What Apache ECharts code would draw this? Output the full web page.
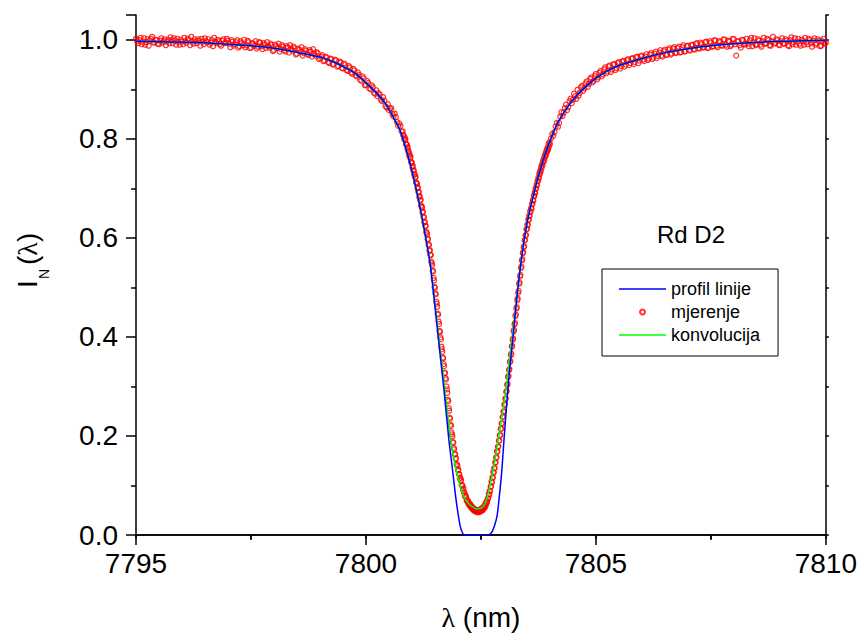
<!DOCTYPE html>
<html><head><meta charset="utf-8">
<script src="https://cdn.jsdelivr.net/npm/echarts@6/dist/echarts.min.js"></script>
<style>html,body{margin:0;padding:0;background:#fff}#c{width:860px;height:636px}</style>
</head><body><div id="c"></div>
<script>
// ---- tick labels ----
const xTickLabels = ['7795', '7800', '7805', '7810'];
const yTickLabels = ['0.0', '0.2', '0.4', '0.6', '0.8', '1.0'];

// ---- series names ----
const seriesNames = ['profil linije', 'mjerenje', 'konvolucija'];
const annotation = 'Rd D2';

// ---- profil linije (blue) ----
const profileX = [7795,7795.5,7796,7796.5,7797,7797.5,7798,7798.5,7799,7799.25,7799.5,7799.75,7800,7800.2,7800.4,7800.6,7800.75,7800.9,7801,7801.1,7801.2,7801.3,7801.4,7801.5,7801.6,7801.7,7801.8,7801.9,7801.95,7802,7802.05,7802.1,7802.15,7802.65,7802.7,7802.75,7802.8,7802.85,7802.9,7802.95,7803,7803.1,7803.2,7803.3,7803.4,7803.5,7803.6,7803.75,7803.9,7804.05,7804.2,7804.4,7804.6,7804.8,7805,7805.25,7805.5,7806,7806.5,7807,7807.5,7808,7808.5,7809,7809.5,7810];
const profileY = [0.997,0.996,0.995,0.994,0.991,0.988,0.983,0.975,0.965,0.957,0.946,0.933,0.913,0.895,0.874,0.843,0.815,0.770,0.735,0.695,0.650,0.600,0.545,0.462,0.375,0.290,0.195,0.118,0.078,0.045,0.018,0.004,0,0,0.002,0.008,0.020,0.038,0.078,0.125,0.190,0.310,0.402,0.495,0.570,0.628,0.670,0.725,0.770,0.807,0.837,0.866,0.889,0.907,0.922,0.937,0.948,0.962,0.974,0.982,0.988,0.992,0.995,0.997,0.998,0.999];

// ---- konvolucija (green) ----
const convX = [7795,7795.5,7796,7796.5,7797,7797.5,7798,7798.5,7799,7799.25,7799.5,7799.75,7800,7800.2,7800.4,7800.6,7800.75,7800.9,7801,7801.1,7801.2,7801.3,7801.4,7801.5,7801.6,7801.7,7801.8,7801.9,7802,7802.1,7802.2,7802.3,7802.4,7802.5,7802.6,7802.7,7802.8,7802.9,7803,7803.1,7803.2,7803.3,7803.4,7803.5,7803.6,7803.75,7803.9,7804.05,7804.2,7804.4,7804.6,7804.8,7805,7805.25,7805.5,7806,7806.5,7807,7807.5,7808,7808.5,7809,7809.5,7810];
const convY = [0.997,0.996,0.995,0.994,0.991,0.988,0.983,0.975,0.965,0.957,0.946,0.933,0.913,0.895,0.874,0.843,0.815,0.770,0.735,0.695,0.650,0.600,0.545,0.467,0.385,0.305,0.225,0.160,0.117,0.084,0.067,0.058,0.053,0.054,0.066,0.100,0.148,0.205,0.265,0.338,0.415,0.495,0.572,0.629,0.670,0.726,0.771,0.807,0.837,0.866,0.889,0.907,0.922,0.937,0.948,0.962,0.974,0.982,0.988,0.992,0.995,0.997,0.998,0.999];

// ---- mjerenje (red circles): three scan segments, each start + step ----
const measLeftStart = 7795, measLeftStep = 0.025;
const measLeftY = [
1.002,0.997,0.993,0.999,1.004,0.991,0.996,1.003,0.990,0.995,1.001,0.988,0.998,1.002,1.006,0.995,0.994,1.000,0.999,0.992,
0.991,0.998,1.003,0.994,0.997,1.001,0.989,0.996,1.000,0.993,1.005,0.999,0.993,1.003,0.998,0.990,1.002,0.996,0.990,1.000,
0.996,0.991,1.004,0.997,0.994,1.002,0.999,0.989,1.006,0.996,0.992,1.001,0.997,0.993,1.001,0.998,0.988,1.002,0.996,0.991,
1.003,0.997,0.995,1.001,0.990,0.994,0.999,0.987,1.004,0.996,0.993,1.000,0.997,0.991,0.988,0.998,1.001,0.993,0.994,1.002,
0.998,
0.992,0.985,0.999,0.996,0.988,0.991,0.995,0.999,0.984,0.987,0.997,0.993,0.989,1.000,0.985,0.989,0.998,0.995,0.983,0.984,
0.993,0.992,0.988,0.997,0.982,0.986,0.995,0.994,0.987,0.981,0.993,0.990,0.983,0.995,0.987,0.984,0.992,0.989,0.977,0.979,
0.990,0.987,0.983,0.992,0.976,0.981,0.989,0.986,0.979,0.976,0.987,0.984,0.974,0.989,0.981,0.978,0.986,0.983,0.970,0.972,
0.982,0.980,0.975,0.985,0.968,0.973,0.981,0.978,0.971,0.969,0.979,0.976,0.966,0.981,0.972,0.968,0.975,0.973,0.961,0.963,
0.966,0.969,0.957,0.958,0.966,0.964,0.955,0.953,0.962,0.961,0.950,0.951,0.960,0.958,0.946,0.947,0.956,0.954,0.943,0.942,
0.952,0.949,0.939,0.937,0.947,0.944,0.934,0.931,0.941,0.938,0.928,0.926,0.934,0.929,0.919,0.917,0.926,0.922,0.908,0.909,
0.917,0.913,0.902,0.900,0.908,0.904,0.893,0.891,0.898,0.886,0.892,0.889,0.879,0.876,0.884,0.877,0.866,0.863,0.870,0.858,
0.861,0.862,0.850,0.845,0.851,0.844,0.834,0.826,0.831,0.826,0.815
];
const measCoreStart = 7800.8, measCoreStep = 0.01;
const measCoreY = [
0.815,0.807,0.807,0.800,0.803,0.797,0.799,0.789,0.789,0.788,0.780,0.783,0.775,0.774,0.766,0.769,0.762,0.764,0.753,0.753,
0.751,0.742,0.745,0.736,0.736,0.727,0.729,0.722,0.723,0.712,0.711,0.709,0.700,0.702,0.693,0.692,0.682,0.684,0.676,0.677,
0.665,0.663,0.661,0.651,0.653,0.643,0.641,0.631,0.632,0.624,0.624,0.612,0.610,0.607,0.597,0.598,0.587,0.585,0.574,0.575,
0.566,0.565,0.552,0.549,0.545,0.534,0.532,0.519,0.514,0.501,0.499,0.488,0.486,0.471,0.467,0.461,0.447,0.445,0.431,0.426,
0.412,0.410,0.399,0.395,0.380,0.375,0.370,0.358,0.357,0.345,0.341,0.328,0.327,0.317,0.314,0.300,0.294,0.287,0.273,0.270,
0.256,0.251,0.237,0.235,0.223,0.220,0.207,0.203,0.199,0.187,0.187,0.176,0.173,0.163,0.163,0.154,0.155,0.143,0.142,0.139,
0.130,0.132,0.123,0.123,0.114,0.116,0.110,0.111,0.101,0.100,0.099,0.091,0.094,0.086,0.086,0.079,0.081,0.076,0.077,0.069,
0.069,0.070,0.064,0.067,0.061,0.063,0.059,0.062,0.056,0.058,0.054,0.057,0.052,0.054,0.050,0.053,0.049,0.051,0.048,0.051,
0.047,0.050,0.046,0.050,0.047,0.049,0.046,0.051,0.048,0.051,0.048,0.053,0.050,0.054,0.050,0.055,0.053,0.058,0.055,0.061,
0.058,0.065,0.063,0.069,0.067,0.074,0.074,0.083,0.081,0.089,0.088,0.098,0.098,0.108,0.106,0.116,0.116,0.127,0.126,0.135,
0.135,0.146,0.147,0.156,0.157,0.168,0.169,0.178,0.179,0.190,0.191,0.201,0.202,0.214,0.215,0.225,0.226,0.238,0.239,0.249,
0.250,0.263,0.264,0.275,0.276,0.289,0.291,0.303,0.305,0.319,0.321,0.333,0.335,0.349,0.351,0.363,0.366,0.380,0.382,0.394,
0.397,0.411,0.414,0.425,0.428,0.442,0.445,0.457,0.460,0.474,0.477,0.489,0.493,0.507,0.510,0.522,0.525,0.539,0.542,0.554,
0.557,0.569,0.571,0.581,0.583,0.595,0.596,0.605,0.606,0.617,0.618,0.627,0.626,0.637,0.636,0.645,0.644,0.654,0.652,0.660,
0.659,0.669,0.668,0.676,0.675,0.685,0.684,0.692,0.690,0.700,0.699,0.707,0.706,0.715,0.714,0.722,0.720,0.730,0.728,0.736,
0.734,0.744,0.741,0.749,0.746,0.756,0.753,0.761,0.757,0.767,0.764,0.772,0.768,0.778,0.774,0.782,0.778,0.789,0.784,0.793,
0.789
];
const measRightStart = 7804.025, measRightStep = 0.025;
const measRightY = [
0.801,0.810,0.806,0.814,0.825,0.832,0.824,0.832,0.845,0.854,0.846,0.853,0.862,0.869,0.858,0.864,0.876,0.881,0.872,0.879,
0.891,0.886,0.881,0.899,0.887,0.893,0.904,0.907,0.897,0.902,0.912,0.916,0.905,0.911,0.921,0.924,0.914,0.917,0.927,0.931,
0.920,0.924,0.933,0.937,0.926,0.930,0.940,0.944,0.932,0.936,0.946,0.948,0.935,0.940,0.950,0.951,0.939,0.943,0.953,0.955,
0.942,0.947,0.956,0.958,0.946,0.950,0.959,0.961,0.949,0.953,0.962,0.963,0.951,0.955,0.965,0.966,0.953,0.958,0.967,0.968,
0.960,0.957,0.966,0.971,0.959,0.962,0.970,0.973,0.961,0.964,0.972,0.976,0.963,0.967,0.974,0.979,0.968,0.966,0.977,0.980,
0.969,0.970,0.980,0.983,0.970,0.972,0.982,0.985,0.973,0.974,0.983,0.986,0.974,0.975,0.985,0.989,0.976,0.977,0.987,0.988,
0.979,0.978,0.989,0.990,0.981,0.980,0.992,0.993,0.983,0.982,0.994,0.991,0.984,0.985,0.995,0.996,0.983,0.984,0.997,0.994,
0.986,0.987,0.999,0.998,0.988,0.985,0.997,0.995,0.989,0.988,1.001,1.000,0.990,0.986,0.998,0.996,0.987,0.990,1.002,1.001,
0.991,0.968,0.996,0.997,0.989,0.984,1.000,0.999,0.990,0.992,1.002,0.992,0.987,0.999,1.004,0.987,0.995,1.003,0.989,0.991,
1.001,0.998,0.990,0.986,0.997,1.004,0.992,0.993,1.002,0.999,0.989,0.988,0.996,1.006,0.992,0.994,1.001,0.999,0.990,0.989,
0.997,1.003,0.993,0.992,1.001,0.998,0.989,0.987,0.999,1.005,0.991,0.995,1.003,0.990,0.996,1.002,0.992,0.988,1.000,0.997,
0.990,1.004,0.995,0.991,1.002,0.999,0.993,0.986,0.998,1.003,0.990,0.993,1.001,0.998,0.987,0.988,0.997,1.002,0.992,0.994
];

const profileData = profileX.map((x, i) => [x, profileY[i]]);
const convData = convX.map((x, i) => [x, convY[i]]);
const seg = (start, step, ys) => ys.map((y, i) => [Math.round((start + i * step) * 1000) / 1000, y]);
const measData = [].concat(
  seg(measLeftStart, measLeftStep, measLeftY),
  seg(measCoreStart, measCoreStep, measCoreY),
  seg(measRightStart, measRightStep, measRightY)
);

const FONT = 'Liberation Sans, Arial, sans-serif';
const chart = echarts.init(document.getElementById('c'), null, {renderer: 'svg'});
const axisLine = {show: true, lineStyle: {color: '#000', width: 1.5}};
const lineIcon = 'path://M0,0H47V1.5H0Z';

chart.setOption({
  animation: false,
  backgroundColor: '#fff',
  grid: {left: 136, right: 34, top: 15, bottom: 99, containLabel: false},
  legend: {
    data: [
      {name: seriesNames[0], icon: lineIcon},
      {name: seriesNames[1], icon: 'circle'},
      {name: seriesNames[2], icon: lineIcon}
    ],
    orient: 'vertical',
    left: 602, top: 269,
    padding: [11, 18, 12, 17],
    itemWidth: 47, itemHeight: 5, itemGap: 5,
    borderColor: '#000', borderWidth: 1,
    textStyle: {fontSize: 18, fontFamily: FONT, color: '#000'}
  },
  xAxis: [
    {
      type: 'value', min: 7795, max: 7810, interval: 5, position: 'bottom',
      axisLine: axisLine,
      axisTick: {show: true, inside: false, length: 10, lineStyle: {color: '#000', width: 1.5}},
      minorTick: {show: true, splitNumber: 2, length: 5, lineStyle: {color: '#000', width: 1.5}},
      splitLine: {show: false}, minorSplitLine: {show: false},
      axisLabel: {fontSize: 28, fontFamily: FONT, color: '#000', margin: 14,
        formatter: v => xTickLabels[Math.round((v - 7795) / 5)] || ''},
      name: '{l|λ} (nm)', nameLocation: 'middle', nameGap: 68,
      nameTextStyle: {fontSize: 28, fontFamily: FONT, color: '#000',
        rich: {l: {fontSize: 28, fontFamily: 'Liberation Serif, serif', color: '#000'}}}
    },
    {
      type: 'value', min: 7795, max: 7810, interval: 2.5, position: 'top',
      axisLine: axisLine,
      axisTick: {show: true, inside: true, length: 4, lineStyle: {color: '#000', width: 1.5}},
      axisLabel: {show: false}, splitLine: {show: false}
    }
  ],
  yAxis: [
    {
      type: 'value', min: 0, max: 1.05, interval: 0.2, position: 'left',
      axisLine: axisLine,
      axisTick: {show: true, inside: false, length: 10, lineStyle: {color: '#000', width: 1.5}},
      minorTick: {show: true, splitNumber: 2, length: 5, lineStyle: {color: '#000', width: 1.5}},
      splitLine: {show: false}, minorSplitLine: {show: false},
      axisLabel: {fontSize: 28, fontFamily: FONT, color: '#000', margin: 18, showMaxLabel: false,
        formatter: v => { const k = v / 0.2; return Math.abs(k - Math.round(k)) < 1e-6 ? (yTickLabels[Math.round(k)] || '') : ''; }}
    },
    {
      type: 'value', min: 0, max: 1.05, interval: 0.1, position: 'right',
      axisLine: axisLine,
      axisTick: {show: true, inside: false, length: 3, lineStyle: {color: '#000', width: 1.5}},
      axisLabel: {show: false}, splitLine: {show: false}
    }
  ],
  series: [
    {
      name: seriesNames[1], type: 'scatter', data: measData,
      symbol: 'circle', symbolSize: 5, z: 2,
      itemStyle: {color: 'rgba(255,255,255,0)', borderColor: '#ff0000', borderWidth: 1.2}
    },
    {
      name: seriesNames[2], type: 'line', data: convData, symbol: 'none', smooth: 0.3, z: 3,
      lineStyle: {color: '#00ff00', width: 1.5}, itemStyle: {color: '#00ff00'}
    },
    {
      name: seriesNames[0], type: 'line', data: profileData, symbol: 'none', smooth: 0.3, z: 4,
      lineStyle: {color: '#0000ff', width: 1.5}, itemStyle: {color: '#0000ff'}
    }
  ],
  graphic: [
    {type: 'text', left: 657, top: 222,
      style: {text: annotation, fontSize: 24, fontFamily: FONT, fill: '#000'}},
    {type: 'group', x: 41, y: 288, rotation: Math.PI / 2, children: [
      {type: 'text', x: 0, y: 0, style: {text: 'I', fontSize: 28, fontFamily: FONT, fill: '#000', align: 'left', verticalAlign: 'bottom'}},
      {type: 'text', x: 9, y: 10, style: {text: 'N', fontSize: 14, fontFamily: FONT, fill: '#000', align: 'left', verticalAlign: 'bottom'}},
      {type: 'text', x: 23, y: 0, style: {text: '({l|λ})', fontSize: 28, fontFamily: FONT, fill: '#000', align: 'left', verticalAlign: 'bottom',
        rich: {l: {fontSize: 28, fontFamily: 'Liberation Serif, serif', fill: '#000'}}}}
    ]}
  ]
});
</script>
</body></html>
